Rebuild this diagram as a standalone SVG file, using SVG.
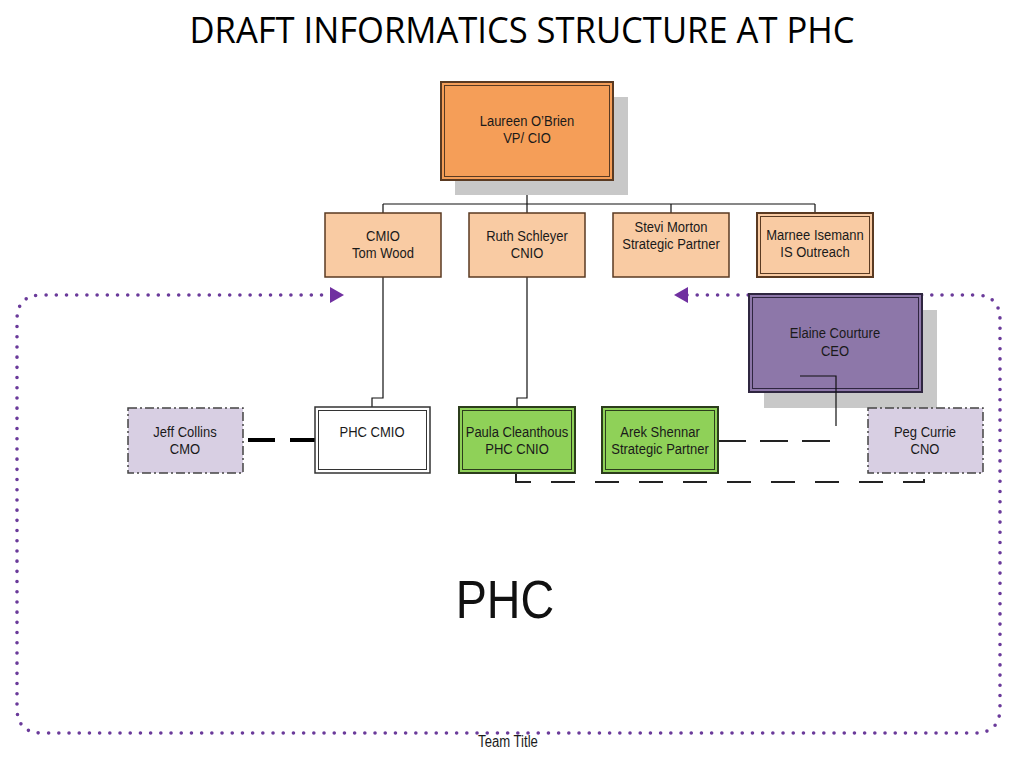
<svg xmlns="http://www.w3.org/2000/svg" width="1024" height="768" viewBox="0 0 1024 768">
<style>
.t{font-family:"Liberation Sans",Arial,sans-serif;font-size:15.3px;fill:#1a1a1a;text-anchor:middle}
.shadow{fill:#c8c8c8}
.peach{fill:#f9cba3;stroke:#5a3a22;stroke-width:1.5}
.inb{fill:none;stroke:#5a3a22;stroke-width:1}
.green{fill:#8fd158;stroke:#2c3d1c;stroke-width:1.5}
.ing{fill:none;stroke:#2c3d1c;stroke-width:1}
.lav{fill:#d8cfe3;stroke:#444;stroke-width:1.5;stroke-dasharray:9 3 2 3}
.tree{fill:none;stroke:#111;stroke-width:1.2}
.dash{fill:none;stroke:#222;stroke-width:2;stroke-dasharray:28 14}
.dots{fill:none;stroke:#6a3a9a;stroke-width:3.6;stroke-linecap:round;stroke-dasharray:0 10.2}
</style>
<defs>
<marker id="arr" viewBox="0 0 14 16" refX="1" refY="8" markerWidth="14" markerHeight="16" markerUnits="userSpaceOnUse" orient="auto-start-reverse">
<path d="M0,0 L14,8 L0,16 Z" fill="#7030a0"/>
</marker>
</defs>
<rect width="1024" height="768" fill="#fff"/>

<text x="522" y="43" font-family="'Open Sans','Noto Sans',sans-serif" font-size="36" fill="#000" text-anchor="middle" textLength="665" lengthAdjust="spacingAndGlyphs">DRAFT INFORMATICS STRUCTURE AT PHC</text>

<g id="connectors">
<path class="dots" d="M687,295 H975 Q1000,295 1000,320 V708 Q1000,733 975,733 H42 Q17,733 17,708 V320 Q17,295 42,295 H331" marker-start="url(#arr)" marker-end="url(#arr)"/>
<path class="tree" d="M527,180 V204 M383,204 H815 M383,204 V213 M527,204 V213 M671,204 V213 M815,204 V213"/>
<path class="tree" d="M383,277 V398 H372 V407"/>
<path class="tree" d="M527,277 V398 H517 V407"/>
<path d="M248,440 H315" fill="none" stroke="#000" stroke-width="4" stroke-dasharray="27 15"/>
<path class="dash" d="M718,441 H834"/>
<path class="dash" d="M516,473 V482 H924 V473" style="stroke-dasharray:24 20"/>
</g>

<g id="node-laureen">
<rect class="shadow" x="455" y="97" width="173" height="98"/>
<rect x="441" y="82" width="172" height="98" fill="#f59e58" stroke="#5a3a22" stroke-width="2"/>
<rect class="inb" x="444.5" y="85.5" width="165" height="91"/>
<text class="t" transform="translate(527,126) scale(0.85,1)">Laureen O’Brien</text>
<text class="t" transform="translate(527,143) scale(0.85,1)">VP/ CIO</text>
</g>

<g id="node-cmio">
<rect class="peach" x="325" y="213" width="116" height="64"/>
<text class="t" transform="translate(383,241) scale(0.85,1)">CMIO</text>
<text class="t" transform="translate(383,258) scale(0.85,1)">Tom Wood</text>
</g>

<g id="node-ruth">
<rect class="peach" x="469" y="213" width="116" height="64"/>
<text class="t" transform="translate(527,241) scale(0.85,1)">Ruth Schleyer</text>
<text class="t" transform="translate(527,258) scale(0.85,1)">CNIO</text>
</g>

<g id="node-stevi">
<rect class="peach" x="613" y="213" width="116" height="64"/>
<text class="t" transform="translate(671,232) scale(0.85,1)">Stevi Morton</text>
<text class="t" transform="translate(671,249) scale(0.85,1)">Strategic Partner</text>
</g>

<g id="node-marnee">
<rect class="peach" x="757" y="213" width="116" height="64" style="stroke-width:2"/>
<rect class="inb" x="760.5" y="216.5" width="109" height="57"/>
<text class="t" transform="translate(815,240) scale(0.85,1)">Marnee Isemann</text>
<text class="t" transform="translate(815,257) scale(0.85,1)">IS Outreach</text>
</g>

<g id="node-elaine">
<rect class="shadow" x="764" y="310" width="173" height="98"/>
<rect x="749" y="294" width="173" height="98" fill="#8d77a9" stroke="#2f2640" stroke-width="2"/>
<rect x="752.5" y="297.5" width="166" height="91" fill="none" stroke="#2f2640" stroke-width="1"/>
<text class="t" transform="translate(835,338) scale(0.85,1)">Elaine Courture</text>
<text class="t" transform="translate(835,356) scale(0.85,1)">CEO</text>
<path class="tree" d="M800,376 H836 V426"/>
</g>

<g id="node-jeff">
<rect class="lav" x="128" y="408" width="115" height="65"/>
<text class="t" transform="translate(185,437) scale(0.85,1)">Jeff Collins</text>
<text class="t" transform="translate(185,454) scale(0.85,1)">CMO</text>
</g>

<g id="node-phc-cmio">
<rect x="315" y="407" width="115" height="66" fill="#fff" stroke="#333" stroke-width="1.5"/>
<rect x="318.5" y="410.5" width="108" height="59" fill="none" stroke="#333" stroke-width="1"/>
<text class="t" transform="translate(372,437) scale(0.85,1)">PHC CMIO</text>
</g>

<g id="node-paula">
<rect class="green" x="459" y="407" width="116" height="66" style="stroke-width:2"/>
<rect class="ing" x="462.5" y="410.5" width="109" height="59"/>
<text class="t" transform="translate(517,437) scale(0.85,1)">Paula Cleanthous</text>
<text class="t" transform="translate(517,454) scale(0.85,1)">PHC CNIO</text>
</g>

<g id="node-arek">
<rect class="green" x="602" y="407" width="116" height="66" style="stroke-width:2"/>
<rect class="ing" x="605.5" y="410.5" width="109" height="59"/>
<text class="t" transform="translate(660,437) scale(0.85,1)">Arek Shennar</text>
<text class="t" transform="translate(660,454) scale(0.85,1)">Strategic Partner</text>
</g>

<g id="node-peg">
<rect class="lav" x="868" y="408" width="115" height="65"/>
<text class="t" transform="translate(925,437) scale(0.85,1)">Peg Currie</text>
<text class="t" transform="translate(925,454) scale(0.85,1)">CNO</text>
</g>

<text transform="translate(505,618) scale(0.88,1)" font-family="'Liberation Sans',Arial,sans-serif" font-size="53" fill="#111" text-anchor="middle">PHC</text>
<text class="t" transform="translate(508,747) scale(0.82,1)" style="font-size:16px">Team Title</text>
</svg>
